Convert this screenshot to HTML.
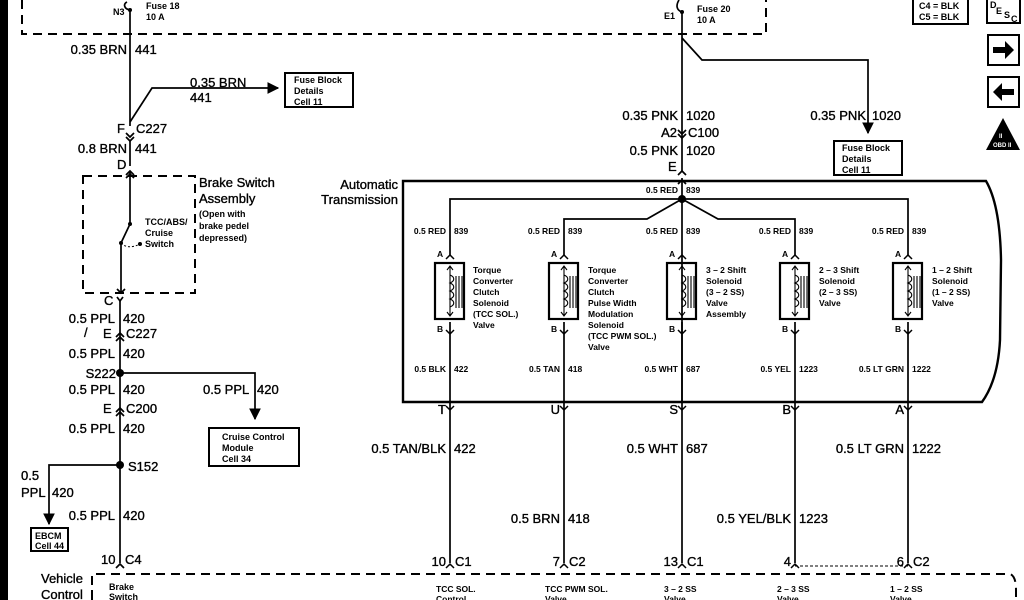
<!DOCTYPE html>
<html><head><meta charset="utf-8"><style>
html,body{margin:0;padding:0;background:#fff;}
svg{display:block;font-family:"Liberation Sans",Arial,sans-serif;}
.m{font-size:13px;stroke:#000;stroke-width:0.35px;}
.s{font-size:9px;font-weight:bold;}
.t{font-size:8.5px;font-weight:bold;}
</style></head><body>
<svg width="1024" height="600" viewBox="0 0 1024 600" xmlns="http://www.w3.org/2000/svg">
<defs>
<marker id="ar" viewBox="0 0 10 10" refX="9" refY="5" markerWidth="7" markerHeight="7" orient="auto"><path d="M0,0L10,5L0,10z" fill="#000"/></marker>
</defs>
<rect x="0" y="0" width="8" height="600" fill="#000"/>
<g stroke="#000" fill="none" stroke-width="1.7">
<path d="M22,0V34H766V0" stroke-dasharray="9,6" stroke-width="2"/>
<path d="M130,10V126"/>
<path d="M127,2 C123,4 124,9 130,10"/>
<path d="M130,122 L152,88 H278" marker-end="url(#ar)"/>
<rect x="285" y="73" width="68" height="34" stroke-width="2"/>
<path d="M126,133 l4,4 l4,-4 M126,137 l4,4 l4,-4"/>
<path d="M130,141V166"/>
<path d="M126,175 l4,-4 l4,4"/>
<rect x="83" y="176" width="112" height="117" stroke-dasharray="9,6" stroke-width="2"/>
<path d="M130,171V224 M130,224 L121,243 M121,243V292"/>
<path d="M126,178 l4,-4 l4,4"/>
<path d="M117,289 l4,4 l4,-4"/>
<path d="M121,243 Q128,250 140,244" stroke-dasharray="2,2" stroke-width="1"/>
<path d="M117,297 l3,4 l3,-4"/>
<path d="M120,301V563"/>
<path d="M116,337 l4,-4 l4,4 M116,341 l4,-4 l4,4"/>
<path d="M116,412 l4,-4 l4,4 M116,416 l4,-4 l4,4"/>
<path d="M120,373H255V419" marker-end="url(#ar)"/>
<rect x="209" y="428" width="90" height="38" stroke-width="2"/>
<path d="M120,465H49V524" marker-end="url(#ar)"/>
<rect x="31" y="528" width="37" height="23" stroke-width="2"/>
<path d="M116,568 l4,-4 l4,4"/>
<path d="M92,585V574H1010 Q1016,576 1016,590V600" stroke-dasharray="9,6" stroke-width="2"/>
<path d="M92,590V600" stroke-width="2"/>
<path d="M682,12V172"/>
<path d="M679,0 C676,5 676,10 682,12"/>
<path d="M682,38 L702,60 H868 V133" marker-end="url(#ar)"/>
<rect x="834" y="141" width="68" height="34" stroke-width="2"/>
<path d="M678,130 l4,4 l4,-4 M678,134 l4,4 l4,-4"/>
<path d="M678,175 l4,-4 l4,4"/>
<path d="M403,181 H986 Q1000,205 1001,260 L1000,340 Q998,380 982,402 H403 Z" stroke-width="2.4"/>
<path d="M682,178V402"/>
<path d="M678,184 l4,-4 l4,4"/>
<path d="M450,255V199H908V255"/>
<path d="M682,199 L647,219 H564 V255"/>
<path d="M682,199 L718,219 H795 V255"/>
<path d="M450,322V563 M564,322V563 M682,322V563 M795,322V563 M908,322V563"/>
<path d="M795,566 H908" stroke-dasharray="3,2" stroke-width="1"/>
<rect x="913" y="-2" width="55" height="26" stroke-width="2"/>
<rect x="987" y="-2" width="33" height="25" stroke-width="2"/>
<rect x="988" y="35" width="31" height="30" stroke-width="2"/>
<rect x="988" y="77" width="31" height="30" stroke-width="2"/>
</g>
<g stroke="#000" fill="none" stroke-width="1.5">
<g transform="translate(450,0)"><path d="M-4,259 l4,-4 l4,4 M-4,330 l4,4 l4,-4"/><rect x="-15" y="263" width="29" height="56" stroke-width="2.2"/><path d="M0,266V316 M-3,270 l3,-4 l3,4 M-3,312 l3,4 l3,-4 M0,275 c5,2 5,6 0,8 c5,2 5,6 0,8 c5,2 5,6 0,8 c5,2 5,6 0,8 M6,276V308 M9,276V308 M12,276V308" stroke-width="1.1"/></g>
<g transform="translate(564,0)"><path d="M-4,259 l4,-4 l4,4 M-4,330 l4,4 l4,-4"/><rect x="-15" y="263" width="29" height="56" stroke-width="2.2"/><path d="M0,266V316 M-3,270 l3,-4 l3,4 M-3,312 l3,4 l3,-4 M0,275 c5,2 5,6 0,8 c5,2 5,6 0,8 c5,2 5,6 0,8 c5,2 5,6 0,8 M6,276V308 M9,276V308 M12,276V308" stroke-width="1.1"/></g>
<g transform="translate(682,0)"><path d="M-4,259 l4,-4 l4,4 M-4,330 l4,4 l4,-4"/><rect x="-15" y="263" width="29" height="56" stroke-width="2.2"/><path d="M0,266V316 M-3,270 l3,-4 l3,4 M-3,312 l3,4 l3,-4 M0,275 c5,2 5,6 0,8 c5,2 5,6 0,8 c5,2 5,6 0,8 c5,2 5,6 0,8 M6,276V308 M9,276V308 M12,276V308" stroke-width="1.1"/></g>
<g transform="translate(795,0)"><path d="M-4,259 l4,-4 l4,4 M-4,330 l4,4 l4,-4"/><rect x="-15" y="263" width="29" height="56" stroke-width="2.2"/><path d="M0,266V316 M-3,270 l3,-4 l3,4 M-3,312 l3,4 l3,-4 M0,275 c5,2 5,6 0,8 c5,2 5,6 0,8 c5,2 5,6 0,8 c5,2 5,6 0,8 M6,276V308 M9,276V308 M12,276V308" stroke-width="1.1"/></g>
<g transform="translate(908,0)"><path d="M-4,259 l4,-4 l4,4 M-4,330 l4,4 l4,-4"/><rect x="-15" y="263" width="29" height="56" stroke-width="2.2"/><path d="M0,266V316 M-3,270 l3,-4 l3,4 M-3,312 l3,4 l3,-4 M0,275 c5,2 5,6 0,8 c5,2 5,6 0,8 c5,2 5,6 0,8 c5,2 5,6 0,8 M6,276V308 M9,276V308 M12,276V308" stroke-width="1.1"/></g>
<path d="M446,406 l4,4 l4,-4 M560,406 l4,4 l4,-4 M678,406 l4,4 l4,-4 M791,406 l4,4 l4,-4 M904,406 l4,4 l4,-4"/>
<path d="M446,568 l4,-4 l4,4 M560,568 l4,-4 l4,4 M678,568 l4,-4 l4,4 M791,568 l4,-4 l4,4 M904,568 l4,-4 l4,4"/>
</g>
<g fill="#000">
<circle cx="130" cy="224" r="2"/><circle cx="121" cy="243" r="2"/><circle cx="140" cy="244" r="2"/>
<circle cx="120" cy="373" r="4"/><circle cx="120" cy="465" r="4"/><circle cx="682" cy="199" r="4"/>
<circle cx="130" cy="10" r="2"/><circle cx="682" cy="12" r="2"/>
<path d="M993,47 h12 v-6 l9,9 l-9,9 v-6 h-12z"/>
<path d="M1014,89 h-12 v-6 l-9,9 l9,9 v-6 h12z"/>
<path d="M1003,118 L1020,150 H986 Z"/>
</g>
<g fill="#fff" font-size="6" font-weight="bold"><text x="999" y="138">II</text><text x="993" y="147">OBD II</text></g>
<g fill="#000">
<text class="s" x="113" y="15">N3</text>
<text class="s" x="146" y="9">Fuse 18</text><text class="s" x="146" y="20">10 A</text>
<text class="m" x="127" y="54" text-anchor="end">0.35 BRN</text><text class="m" x="135" y="54">441</text>
<text class="m" x="190" y="87">0.35 BRN</text><text class="m" x="190" y="102">441</text>
<text class="s" x="294" y="83">Fuse Block</text><text class="s" x="294" y="94">Details</text><text class="s" x="294" y="105">Cell 11</text>
<text class="m" x="117" y="133">F</text><text class="m" x="136" y="133">C227</text>
<text class="m" x="127" y="153" text-anchor="end">0.8 BRN</text><text class="m" x="135" y="153">441</text>
<text class="m" x="117" y="169">D</text>
<text class="m" x="199" y="187">Brake Switch</text><text class="m" x="199" y="203">Assembly</text>
<text class="s" x="199" y="217">(Open with</text><text class="s" x="199" y="229">brake pedel</text><text class="s" x="199" y="241">depressed)</text>
<text class="s" x="145" y="225">TCC/ABS/</text><text class="s" x="145" y="236">Cruise</text><text class="s" x="145" y="247">Switch</text>
<text class="m" x="104" y="305">C</text>
<text class="m" x="115" y="323" text-anchor="end">0.5 PPL</text><text class="m" x="123" y="323">420</text>
<text class="m" x="84" y="337">/</text><text class="m" x="103" y="338">E</text><text class="m" x="126" y="338">C227</text>
<text class="m" x="115" y="358" text-anchor="end">0.5 PPL</text><text class="m" x="123" y="358">420</text>
<text class="m" x="116" y="378" text-anchor="end">S222</text>
<text class="m" x="115" y="394" text-anchor="end">0.5 PPL</text><text class="m" x="123" y="394">420</text>
<text class="m" x="203" y="394">0.5 PPL</text><text class="m" x="257" y="394">420</text>
<text class="m" x="103" y="413">E</text><text class="m" x="126" y="413">C200</text>
<text class="m" x="115" y="433" text-anchor="end">0.5 PPL</text><text class="m" x="123" y="433">420</text>
<text class="s" x="222" y="440">Cruise Control</text><text class="s" x="222" y="451">Module</text><text class="s" x="222" y="462">Cell 34</text>
<text class="m" x="128" y="471">S152</text>
<text class="m" x="21" y="480">0.5</text><text class="m" x="21" y="497">PPL</text><text class="m" x="52" y="497">420</text>
<text class="m" x="115" y="520" text-anchor="end">0.5 PPL</text><text class="m" x="123" y="520">420</text>
<text class="s" x="35" y="539">EBCM</text><text class="s" x="35" y="549">Cell 44</text>
<text class="m" x="101" y="564">10</text><text class="m" x="125" y="564">C4</text>
<text class="m" x="41" y="583">Vehicle</text><text class="m" x="41" y="599">Control</text>
<text class="s" x="109" y="590">Brake</text><text class="s" x="109" y="600">Switch</text>
<text class="s" x="664" y="19">E1</text>
<text class="s" x="697" y="12">Fuse 20</text><text class="s" x="697" y="23">10 A</text>
<text class="m" x="678" y="120" text-anchor="end">0.35 PNK</text><text class="m" x="686" y="120">1020</text>
<text class="m" x="866" y="120" text-anchor="end">0.35 PNK</text><text class="m" x="872" y="120">1020</text>
<text class="m" x="677" y="137" text-anchor="end">A2</text><text class="m" x="688" y="137">C100</text>
<text class="m" x="678" y="155" text-anchor="end">0.5 PNK</text><text class="m" x="686" y="155">1020</text>
<text class="m" x="668" y="171">E</text>
<text class="s" x="842" y="151">Fuse Block</text><text class="s" x="842" y="162">Details</text><text class="s" x="842" y="173">Cell 11</text>
<text class="s" x="919" y="9">C4 = BLK</text><text class="s" x="919" y="20">C5 = BLK</text>
<text x="990" y="8" font-size="9" font-weight="bold">D</text><text x="996" y="14" font-size="9" font-weight="bold">E</text><text x="1004" y="18" font-size="9" font-weight="bold">S</text><text x="1011" y="22" font-size="9" font-weight="bold">C</text>
<text class="m" x="398" y="189" text-anchor="end">Automatic</text><text class="m" x="398" y="204" text-anchor="end">Transmission</text>
<text class="t" x="678" y="193" text-anchor="end">0.5 RED</text><text class="t" x="686" y="193">839</text>
<text class="t" x="446" y="234" text-anchor="end">0.5 RED</text><text class="t" x="454" y="234">839</text>
<text class="t" x="560" y="234" text-anchor="end">0.5 RED</text><text class="t" x="568" y="234">839</text>
<text class="t" x="678" y="234" text-anchor="end">0.5 RED</text><text class="t" x="686" y="234">839</text>
<text class="t" x="791" y="234" text-anchor="end">0.5 RED</text><text class="t" x="799" y="234">839</text>
<text class="t" x="904" y="234" text-anchor="end">0.5 RED</text><text class="t" x="912" y="234">839</text>
<text class="t" x="437" y="257">A</text><text class="t" x="551" y="257">A</text><text class="t" x="669" y="257">A</text><text class="t" x="782" y="257">A</text><text class="t" x="895" y="257">A</text>
<text class="t" x="437" y="332">B</text><text class="t" x="551" y="332">B</text><text class="t" x="669" y="332">B</text><text class="t" x="782" y="332">B</text><text class="t" x="895" y="332">B</text>
<g class="t"><text x="473" y="273">Torque</text><text x="473" y="284">Converter</text><text x="473" y="295">Clutch</text><text x="473" y="306">Solenoid</text><text x="473" y="317">(TCC  SOL.)</text><text x="473" y="328">Valve</text></g>
<g class="t"><text x="588" y="273">Torque</text><text x="588" y="284">Converter</text><text x="588" y="295">Clutch</text><text x="588" y="306">Pulse Width</text><text x="588" y="317">Modulation</text><text x="588" y="328">Solenoid</text><text x="588" y="339">(TCC PWM SOL.)</text><text x="588" y="350">Valve</text></g>
<g class="t"><text x="706" y="273">3 – 2 Shift</text><text x="706" y="284">Solenoid</text><text x="706" y="295">(3 – 2 SS)</text><text x="706" y="306">Valve</text><text x="706" y="317">Assembly</text></g>
<g class="t"><text x="819" y="273">2 – 3 Shift</text><text x="819" y="284">Solenoid</text><text x="819" y="295">(2 – 3 SS)</text><text x="819" y="306">Valve</text></g>
<g class="t"><text x="932" y="273">1 – 2 Shift</text><text x="932" y="284">Solenoid</text><text x="932" y="295">(1 – 2 SS)</text><text x="932" y="306">Valve</text></g>
<text class="t" x="446" y="372" text-anchor="end">0.5 BLK</text><text class="t" x="454" y="372">422</text>
<text class="t" x="560" y="372" text-anchor="end">0.5 TAN</text><text class="t" x="568" y="372">418</text>
<text class="t" x="678" y="372" text-anchor="end">0.5 WHT</text><text class="t" x="686" y="372">687</text>
<text class="t" x="791" y="372" text-anchor="end">0.5 YEL</text><text class="t" x="799" y="372">1223</text>
<text class="t" x="904" y="372" text-anchor="end">0.5 LT GRN</text><text class="t" x="912" y="372">1222</text>
<text class="m" x="446" y="414" text-anchor="end">T</text><text class="m" x="560" y="414" text-anchor="end">U</text><text class="m" x="678" y="414" text-anchor="end">S</text><text class="m" x="791" y="414" text-anchor="end">B</text><text class="m" x="904" y="414" text-anchor="end">A</text>
<text class="m" x="446" y="453" text-anchor="end">0.5 TAN/BLK</text><text class="m" x="454" y="453">422</text>
<text class="m" x="678" y="453" text-anchor="end">0.5 WHT</text><text class="m" x="686" y="453">687</text>
<text class="m" x="904" y="453" text-anchor="end">0.5 LT GRN</text><text class="m" x="912" y="453">1222</text>
<text class="m" x="560" y="523" text-anchor="end">0.5 BRN</text><text class="m" x="568" y="523">418</text>
<text class="m" x="791" y="523" text-anchor="end">0.5 YEL/BLK</text><text class="m" x="799" y="523">1223</text>
<text class="m" x="446" y="566" text-anchor="end">10</text><text class="m" x="455" y="566">C1</text>
<text class="m" x="560" y="566" text-anchor="end">7</text><text class="m" x="569" y="566">C2</text>
<text class="m" x="678" y="566" text-anchor="end">13</text><text class="m" x="687" y="566">C1</text>
<text class="m" x="791" y="566" text-anchor="end">4</text>
<text class="m" x="904" y="566" text-anchor="end">6</text><text class="m" x="913" y="566">C2</text>
<text class="t" x="436" y="592">TCC SOL.</text><text class="t" x="436" y="602">Control</text>
<text class="t" x="545" y="592">TCC PWM SOL.</text><text class="t" x="545" y="602">Valve</text>
<text class="t" x="664" y="592">3 – 2 SS</text><text class="t" x="664" y="602">Valve</text>
<text class="t" x="777" y="592">2 – 3 SS</text><text class="t" x="777" y="602">Valve</text>
<text class="t" x="890" y="592">1 – 2 SS</text><text class="t" x="890" y="602">Valve</text>
</g>
</svg>
</body></html>
